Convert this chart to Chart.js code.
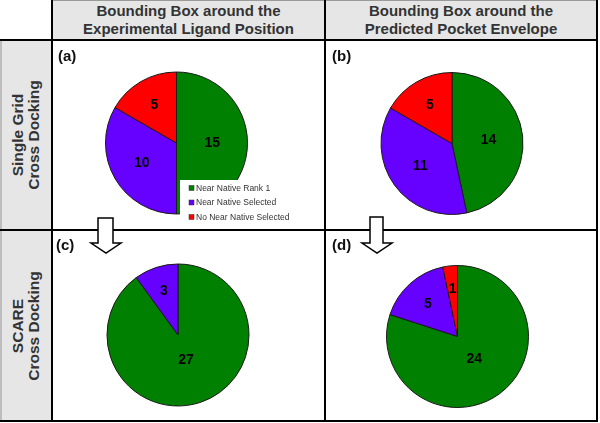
<!DOCTYPE html>
<html>
<head>
<meta charset="utf-8">
<script src="https://cdn.jsdelivr.net/npm/chart.js@4/dist/chart.umd.min.js"></script>
<style>
  html, body { margin: 0; padding: 0; background: #fff; }
  #wrap { position: relative; width: 600px; height: 423px; overflow: hidden; font-family: "Liberation Sans", Arial, sans-serif; }
  .bg { position: absolute; background: #e6e6e6; }
  .ln { position: absolute; background: #000; }
  .hdr { position: absolute; top: 0; height: 40px; display: flex; align-items: center; justify-content: center; text-align: center;
         font-weight: bold; font-size: 15px; line-height: 18px; color: #333; }
  .rowlab { position: absolute; left: 0; width: 52px; display: flex; align-items: center; justify-content: center; }
  .rowlab div { transform: rotate(-90deg); white-space: nowrap; text-align: center; font-weight: bold; font-size: 15.5px; line-height: 16px; color: #333; }
  .plab { position: absolute; font-weight: bold; font-size: 15px; color: #111; }
  canvas { position: absolute; left: 0; top: 0; }
  svg { position: absolute; left: 0; top: 0; }
</style>
</head>
<body>
<div id="wrap">
  <div class="bg" style="left:52px;top:0;width:546px;height:40px"></div>
  <div class="bg" style="left:0;top:40px;width:52px;height:381px"></div>
  <div class="ln" style="left:51px;top:0;width:547px;height:1px;background:#9a9a9a"></div>
  <div class="ln" style="left:0;top:40px;width:2px;height:382px;background:#bdbdbd"></div>
  <div class="ln" style="left:0;top:39px;width:598px;height:2px"></div>
  <div class="ln" style="left:0;top:229px;width:598px;height:2px"></div>
  <div class="ln" style="left:0;top:420px;width:598px;height:2px"></div>
  <div class="ln" style="left:51px;top:0;width:2px;height:422px"></div>
  <div class="ln" style="left:324px;top:0;width:2px;height:422px"></div>
  <div class="ln" style="left:596px;top:0;width:2px;height:422px"></div>

  <div class="hdr" style="left:53px;width:271px">Bounding Box around the<br>Experimental Ligand Position</div>
  <div class="hdr" style="left:326px;width:270px">Bounding Box around the<br>Predicted Pocket Envelope</div>
  <div class="rowlab" style="top:41px;height:188px"><div>Single Grid<br>Cross Docking</div></div>
  <div class="rowlab" style="top:231px;height:189px"><div>SCARE<br>Cross Docking</div></div>

  <canvas id="ca" width="600" height="423"></canvas>
  <canvas id="cb" width="600" height="423"></canvas>
  <canvas id="cc" width="600" height="423"></canvas>
  <canvas id="cd" width="600" height="423"></canvas>

  <div class="plab" style="left:58px;top:47px">(a)</div>
  <div class="plab" style="left:332px;top:47px">(b)</div>
  <div class="plab" style="left:56px;top:236px">(c)</div>
  <div class="plab" style="left:332px;top:236px">(d)</div>

  <svg width="600" height="423">
    <polygon points="98,218 113,218 113,243 121,243 106,253 91,243 98,243" fill="#fff" stroke="#000" stroke-width="1.5" stroke-linejoin="miter"/>
    <polygon points="370,217 383,217 383,243 392,243 377,253 362,243 370,243" fill="#fff" stroke="#000" stroke-width="1.5" stroke-linejoin="miter"/>
  </svg>
</div>
<script>
const categories = ['Near Native Rank 1', 'Near Native Selected', 'No Near Native Selected'];
const colors = ['#008000', '#6600ff', '#ff0000'];
const valuesA = [15, 10, 5];
const valuesB = [14, 11, 5];
const valuesC = [27, 3, 0];
const valuesD = [24, 5, 1];

const W = 600, H = 423;

function padFor(cx, cy, r) {
  const s = 2 * r + 1;
  const left = cx - s / 2, top = cy - s / 2;
  return { left: left, top: top, right: W - left - s, bottom: H - top - s };
}

const valueLabels = {
  id: 'valueLabels',
  afterDatasetsDraw(chart) {
    const ctx = chart.ctx;
    const meta = chart.getDatasetMeta(0);
    const data = chart.data.datasets[0].data;
    const total = data.reduce((a, b) => a + b, 0);
    ctx.save();
    ctx.font = 'bold 14px "Liberation Sans", Arial, sans-serif';
    ctx.fillStyle = '#000';
    ctx.textAlign = 'center';
    ctx.textBaseline = 'middle';
    meta.data.forEach((arc, i) => {
      if (!data[i]) return;
      const p = arc.getProps(['x', 'y', 'startAngle', 'endAngle', 'outerRadius'], true);
      const mid = (p.startAngle + p.endAngle) / 2;
      const frac = data[i] / total;
      const rr = p.outerRadius * (0.68 - 0.35 * frac);
      ctx.fillText(String(data[i]), p.x + Math.cos(mid) * rr, p.y + Math.sin(mid) * rr);
    });
    ctx.restore();
  }
};

const boxLegend = {
  id: 'boxLegend',
  afterDraw(chart) {
    const ctx = chart.ctx;
    ctx.save();
    ctx.fillStyle = '#fff';
    ctx.fillRect(180, 180, 144, 49);
    ctx.font = '8.5px "Liberation Sans", Arial, sans-serif';
    ctx.textBaseline = 'middle';
    ctx.textAlign = 'left';
    categories.forEach((c, i) => {
      const y = 188 + i * 14.5;
      ctx.fillStyle = colors[i];
      ctx.fillRect(189, y - 2.5, 5, 5);
      ctx.strokeStyle = '#333';
      ctx.lineWidth = 0.5;
      ctx.strokeRect(189, y - 2.5, 5, 5);
      ctx.fillStyle = '#333';
      ctx.fillText(c, 196, y + 0.5);
    });
    ctx.restore();
  }
};

function makePie(id, values, cx, cy, extra) {
  const plugins = [valueLabels];
  if (extra) plugins.push(extra);
  return new Chart(document.getElementById(id), {
    type: 'pie',
    data: {
      labels: categories,
      datasets: [{
        data: values,
        backgroundColor: colors,
        borderColor: '#1a1a1a',
        borderWidth: 1
      }]
    },
    options: {
      responsive: false,
      animation: false,
      events: [],
      layout: { padding: padFor(cx, cy, 71) },
      plugins: { legend: { display: false }, tooltip: { enabled: false } }
    },
    plugins: plugins
  });
}

makePie('ca', valuesA, 176.5, 143, boxLegend);
makePie('cb', valuesB, 452, 143.5);
makePie('cc', valuesC, 178, 335);
makePie('cd', valuesD, 457.5, 336.5);
</script>
</body>
</html>
